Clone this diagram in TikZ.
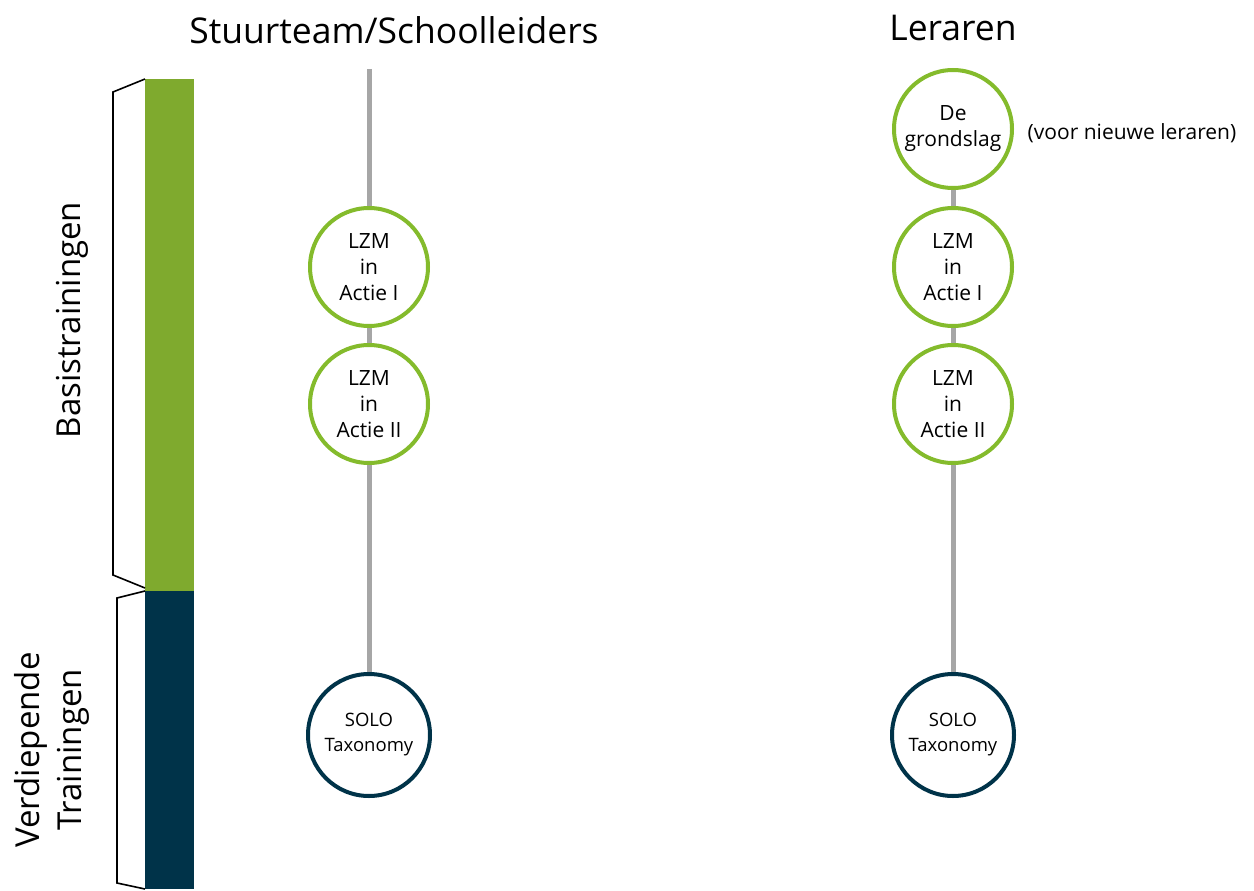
\documentclass[tikz,border=0pt]{standalone}
\usepackage{fontspec}
\setmainfont{Open Sans}
\usepackage{tikz}
\definecolor{barGreen}{HTML}{7FAA2E}
\definecolor{ringGreen}{HTML}{84BB2C}
\definecolor{deepBlue}{HTML}{003349}
\definecolor{lineGray}{HTML}{A6A6A6}
\tikzset{
  stage/.style={circle, draw=ringGreen, line width=4pt, fill=white, minimum size=118pt, inner sep=0pt, align=center, font=\fontsize{21}{26}\selectfont},
  deepstage/.style={stage, draw=deepBlue, minimum size=122pt, font=\fontsize{18.5}{25}\selectfont},
  track/.style={lineGray, line width=5pt},
  brace/.style={black, line width=1.6pt, line join=miter}
}

\begin{document}
\begin{tikzpicture}[x=1pt,y=-1pt]
			\useasboundingbox (0,0) rectangle (1254,891);
			% side bars
			\fill[barGreen] (145,79) rectangle (194,591);
			\fill[deepBlue] (145,591) rectangle (194,889);
			\draw[brace] (145,79) -- (113,92) -- (113,575) -- (145,588);
			\draw[brace] (145,591) -- (117,598) -- (117,883) -- (145,889);
			\node[rotate=90, font=\fontsize{33}{36}\selectfont] (basis) at (72,320) {Basistrainingen};
			\node[rotate=90, align=center, font=\fontsize{33}{42}\selectfont] (verdiep) at (52,750) {Verdiepende\\Trainingen};
			% headers
			\node[font=\fontsize{35.5}{38}\selectfont] (stuur) at (394,30) {Stuurteam/Schoolleiders};
			\node[font=\fontsize{35.5}{38}\selectfont] (leraren) at (953,28) {Leraren};
			% left column
			\coordinate (stuurTop) at (369,69);
			\node[stage] (sAct1) at (369,267) {LZM\\in\\Actie I};
			\node[stage] (sAct2) at (369,404) {LZM\\in\\Actie II};
			\node[deepstage] (sSolo) at (369,735) {SOLO\\Taxonomy};
			% right column
			\node[stage] (lGrond) at (953,129) {De\\grondslag};
			\node[stage] (lAct1) at (953,267) {LZM\\in\\Actie I};
			\node[stage] (lAct2) at (953,404) {LZM\\in\\Actie II};
			\node[deepstage] (lSolo) at (953,735) {SOLO\\Taxonomy};
			\node[font=\fontsize{21}{24}\selectfont] (nieuw) at (1132,133) {(voor nieuwe leraren)};
			% tracks
			\draw[track] (stuurTop) -- (sAct1);
			\draw[track] (sAct1) -- (sAct2);
			\draw[track] (sAct2) -- (sSolo);
			\draw[track] (lGrond) -- (lAct1);
			\draw[track] (lAct1) -- (lAct2);
			\draw[track] (lAct2) -- (lSolo);
		\end{tikzpicture}
\end{document}
